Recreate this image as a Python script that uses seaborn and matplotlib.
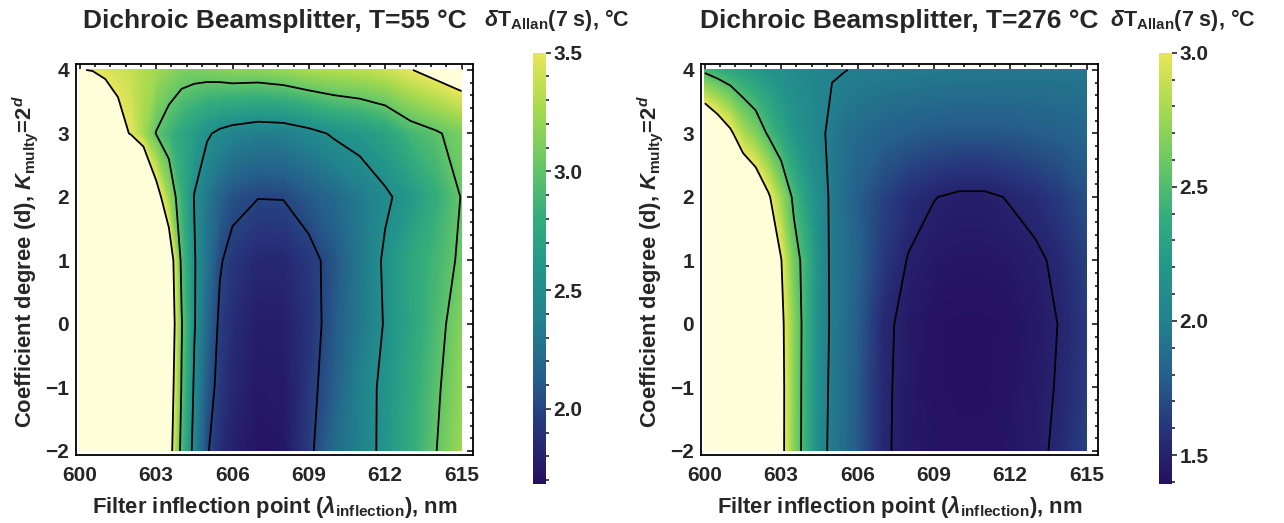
import matplotlib

matplotlib.use("Agg")

import matplotlib.pyplot as plt
import numpy as np
import seaborn as sns
from matplotlib.cm import ScalarMappable
from matplotlib.colors import Normalize
from matplotlib.ticker import FormatStrFormatter, MultipleLocator

# grid of the simulation: filter inflection point (nm) x coefficient degree d
wavelength_nm = [600, 600.5, 601, 601.5, 602, 602.5, 603, 603.5, 604, 604.5,
                 605, 605.5, 606, 607, 608, 609, 610, 611, 612, 613, 614, 615]
degree_d = [-2, -1, 0, 1, 2, 3, 4]

# dT_Allan(7 s), degC -- T = 55 degC, one list per degree d
t55_d_m2 = [5.0, 5.0, 5.0, 5.0, 5.0, 4.8, 4.3, 3.71, 2.90, 2.40, 2.02,
            1.88, 1.79, 1.72, 1.73, 1.95, 2.21, 2.37, 2.57, 2.78, 2.995, 3.22]
t55_d_m1 = [5.0, 5.0, 5.0, 5.0, 5.0, 4.8, 4.4, 3.80, 2.98, 2.46, 2.10,
            1.93, 1.84, 1.74, 1.75, 1.93, 2.13, 2.38, 2.56, 2.76, 2.96, 3.18]
t55_d_0 = [5.0, 5.0, 5.0, 5.0, 5.0, 4.8, 4.5, 3.90, 3.02, 2.52, 2.19,
           1.96, 1.87, 1.77, 1.78, 1.90, 2.10, 2.30, 2.52, 2.72, 2.91, 3.14]
t55_d_1 = [5.0, 5.0, 5.0, 5.0, 5.0, 4.8, 4.3, 3.81, 2.93, 2.52, 2.27,
           2.02, 1.93, 1.84, 1.84, 1.93, 2.08, 2.30, 2.54, 2.74, 2.88, 3.04]
t55_d_2 = [5.0, 5.0, 5.0, 5.0, 4.8, 4.5, 3.68, 3.21, 2.82, 2.49, 2.30,
           2.17, 2.06, 2.005, 2.008, 2.10, 2.20, 2.32, 2.46, 2.60, 2.80, 3.01]
t55_d_3 = [4.5, 4.1, 3.8, 3.62, 3.48, 3.24, 2.99, 2.86, 2.74, 2.64, 2.53,
           2.45, 2.40, 2.35, 2.36, 2.43, 2.53, 2.60, 2.70, 2.88, 2.97, 3.10]
t55_d_4 = [3.51, 3.49, 3.45, 3.41, 3.37, 3.30, 3.24, 3.17, 3.11, 3.10, 3.11,
           3.13, 3.16, 3.16, 3.20, 3.27, 3.31, 3.33, 3.38, 3.49, 3.60, 3.70]

# dT_Allan(7 s), degC -- T = 276 degC
t276_d_m2 = [3.8, 3.75, 3.7, 3.65, 3.6, 3.35, 3.10, 2.67, 2.37, 2.08, 1.95,
             1.86, 1.76, 1.53, 1.44, 1.42, 1.41, 1.41, 1.43, 1.46, 1.54, 1.66]
t276_d_m1 = [3.8, 3.75, 3.7, 3.65, 3.6, 3.35, 3.10, 2.68, 2.37, 2.09, 1.96,
             1.87, 1.77, 1.535, 1.44, 1.41, 1.40, 1.40, 1.42, 1.45, 1.52, 1.63]
t276_d_0 = [3.8, 3.75, 3.7, 3.65, 3.6, 3.35, 3.08, 2.68, 2.38, 2.10, 1.97,
            1.88, 1.78, 1.54, 1.45, 1.41, 1.40, 1.40, 1.41, 1.44, 1.51, 1.62]
t276_d_1 = [3.9, 3.82, 3.75, 3.63, 3.5, 3.3, 3.01, 2.60, 2.40, 2.12, 1.96,
            1.90, 1.81, 1.62, 1.49, 1.44, 1.43, 1.43, 1.44, 1.47, 1.54, 1.65]
t276_d_2 = [3.9, 3.75, 3.6, 3.45, 3.3, 3.04, 2.74, 2.45, 2.26, 2.10, 1.96,
            1.87, 1.79, 1.66, 1.57, 1.505, 1.475, 1.475, 1.51, 1.56, 1.63, 1.72]
t276_d_3 = [3.5, 3.27, 3.06, 2.8, 2.66, 2.47, 2.32, 2.20, 2.11, 2.035, 1.96,
            1.90, 1.86, 1.81, 1.78, 1.76, 1.75, 1.75, 1.76, 1.78, 1.80, 1.83]
t276_d_4 = [2.45, 2.38, 2.32, 2.27, 2.22, 2.17, 2.13, 2.10, 2.07, 2.04, 2.01,
            2.003, 1.99, 1.98, 1.97, 1.96, 1.95, 1.95, 1.94, 1.94, 1.94, 1.94]

t55_levels = [2.0, 2.5, 3.0, 3.5]
t276_levels = [1.5, 2.0, 2.5, 3.0]
t55_range = (1.684, 3.5)
t276_range = (1.392, 3.0)

# viridis-like ramp as rendered in the source (indigo low end, soft yellow top)
ramp_colors = ["#25105f", "#27337a", "#25608b", "#22808d", "#23968a",
               "#35ad7b", "#6bc964", "#a8da4f", "#e8e65a"]

sns.set_style("white")
plt.rcParams["font.family"] = ["Liberation Sans", "DejaVu Sans"]
plt.rcParams["font.weight"] = "bold"
plt.rcParams["mathtext.fontset"] = "custom"
plt.rcParams["mathtext.rm"] = "Liberation Sans:bold"
plt.rcParams["mathtext.it"] = "Liberation Sans:italic:bold"
plt.rcParams["mathtext.bf"] = "Liberation Sans:bold"

CMAP = sns.blend_palette(ramp_colors, as_cmap=True).with_extremes(over="#fefed8")

FIG_W, FIG_H = 1284, 523


def px_rect(x0, y0, x1, y1):
    return [x0 / FIG_W, 1 - y1 / FIG_H, (x1 - x0) / FIG_W, (y1 - y0) / FIG_H]


def draw_panel(fig, ax_rect, cax_rect, rows, vrange, levels):
    ax = fig.add_axes(ax_rect)
    cax = fig.add_axes(cax_rect)
    z = np.array(rows)
    vmin, vmax = vrange

    ax.contourf(wavelength_nm, degree_d, z, levels=np.linspace(vmin, vmax, 256),
                cmap=CMAP, extend="both", antialiased=False)
    ax.contour(wavelength_nm, degree_d, z, levels=levels, colors="black",
               linewidths=1.3)

    ax.set_xlim(599.85, 615.45)
    ax.set_ylim(-2.063, 4.094)
    ax.xaxis.set_major_locator(MultipleLocator(3))
    ax.xaxis.set_minor_locator(MultipleLocator(0.6))
    ax.yaxis.set_major_locator(MultipleLocator(1))
    ax.yaxis.set_minor_locator(MultipleLocator(0.2))
    ax.tick_params(which="both", direction="in", top=True, right=True,
                   width=1.1, color="black", labelsize=15)
    ax.tick_params(which="major", length=4.5)
    ax.tick_params(which="minor", length=2.5)
    ax.tick_params(axis="x", pad=8)
    ax.tick_params(axis="y", pad=5)
    for spine in ax.spines.values():
        spine.set_linewidth(1.3)
        spine.set_color("black")

    cb = fig.colorbar(ScalarMappable(norm=Normalize(vmin, vmax), cmap=CMAP), cax=cax)
    cb.outline.set_visible(False)
    cax.yaxis.set_major_locator(MultipleLocator(0.5))
    cax.yaxis.set_minor_locator(MultipleLocator(0.1))
    cax.yaxis.set_major_formatter(FormatStrFormatter("%.1f"))
    cax.tick_params(which="both", direction="out", width=1.2, labelsize=15, pad=2)
    cax.tick_params(which="major", length=3.5)
    cax.tick_params(which="minor", length=2.3)
    return ax


fig = plt.figure(figsize=(FIG_W / 100, FIG_H / 100), dpi=100)

t55_rows = [t55_d_m2, t55_d_m1, t55_d_0, t55_d_1, t55_d_2, t55_d_3, t55_d_4]
t276_rows = [t276_d_m2, t276_d_m1, t276_d_0, t276_d_1, t276_d_2, t276_d_3, t276_d_4]

panels = [
    (76, 533, t55_rows, t55_range, t55_levels, "55"),
    (701, 1159, t276_rows, t276_range, t276_levels, "276"),
]

for ax_x, cb_x, rows, vrange, levels, temp in panels:
    draw_panel(fig, px_rect(ax_x, 64, ax_x + 397, 455),
               px_rect(cb_x, 52.7, cb_x + 13, 484), rows, vrange, levels)
    cx = ax_x + 198.5
    fig.text(cx / FIG_W, 1 - 28.3 / FIG_H, f"Dichroic Beamsplitter, T={temp} °C",
             ha="center", va="baseline", fontsize=19, fontweight="bold")
    fig.text((cb_x + 24) / FIG_W, 1 - 26 / FIG_H,
             r"$\mathit{\delta}$T$_{\mathrm{Allan}}$(7 s), °C",
             ha="center", va="baseline", fontsize=15.5, fontweight="bold")
    fig.text(cx / FIG_W, 10 / FIG_H,
             r"Filter inflection point ($\mathit{λ}_{\mathrm{inflection}}$), nm",
             ha="center", va="baseline", fontsize=15.8, fontweight="bold")
    fig.text((ax_x - 51) / FIG_W, 1 - 262 / FIG_H,
             r"Coefficient degree (d), $\mathit{K}_{\mathrm{multy}}$=2$^{\mathit{d}}$",
             ha="center", va="center", rotation=90, fontsize=15.8, fontweight="bold")

fig.savefig("out.png", dpi=100)
plt.close(fig)
